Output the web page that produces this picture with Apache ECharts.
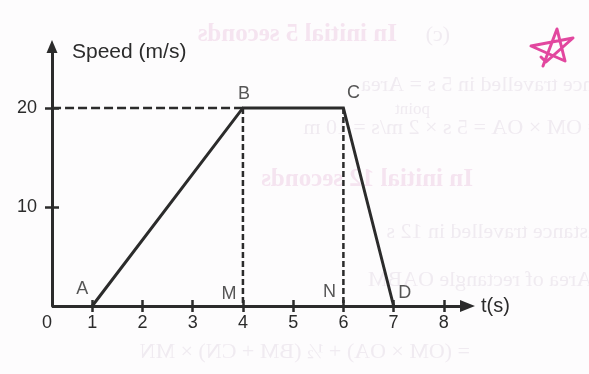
<!DOCTYPE html>
<html>
<head>
<meta charset="utf-8">
<script src="https://cdn.jsdelivr.net/npm/echarts@6/dist/echarts.min.js"></script>
<style>
  html, body { margin: 0; padding: 0; background: #fdfcfd; }
  #chart { width: 589px; height: 374px; }
</style>
</head>
<body>
<div id="chart"></div>
<script>
// Speed–time graph: motion from A to B to C to D
const times = [1, 4, 6, 7];
const speeds = [0, 20, 20, 0];
const pointNames = ['A', 'B', 'C', 'D'];
const footTimes = [4, 6];
const footNames = ['M', 'N'];
const xTickValues = [1, 2, 3, 4, 5, 6, 7, 8];
const xLabelValues = [0, 1, 2, 3, 4, 5, 6, 7, 8];
const yTickValues = [10, 20];

// where the speed axis crosses the time axis, and where the time arrow ends
const yAxisAt = 0.2;
const xArrowEnd = 8.47;

const INK = '#2b2b2b';
const FONT = '"Liberation Sans", Arial, sans-serif';

// label nudges around each lettered point
const labelOffset = { A: [-10, -17], B: [1, -14], C: [10, -15], D: [11, -13], M: [-14, -12], N: [-14, -14] };

// faint show-through from the reverse of the printed page (mirrored)
const ghostLines = [
  { text: '(c)', right: 450, y: 35, size: 22, bold: false },
  { text: 'In initial 5 seconds', right: 397, y: 35, size: 25, bold: true },
  { text: 'Distance travelled in 5 s = Area', right: 640, y: 85, size: 22, bold: false },
  { text: 'point', right: 430, y: 110, size: 17, bold: false },
  { text: '= OM × OA = 5 s × 2 m/s = 10 m', right: 600, y: 128, size: 22, bold: false },
  { text: 'In initial 12 seconds', right: 473, y: 180, size: 25, bold: true },
  { text: 'Distance travelled in 12 s', right: 610, y: 232, size: 22, bold: false },
  { text: '= Area of rectangle OABM', right: 610, y: 280, size: 22, bold: false },
  { text: '= (OM × OA) + ½ (BM + CN) × MN', right: 470, y: 352, size: 22, bold: false }
];

const chart = echarts.init(document.getElementById('chart'), null, { renderer: 'canvas' });

const pathData = times.map((t, i) => [t, speeds[i]]);
const peak = speeds[1];

const letterData = pointNames.map((n, i) => ({ name: n, value: [times[i], speeds[i]] }))
  .concat(footNames.map((n, i) => ({ name: n, value: [footTimes[i], 0] })));

const dashed = (w, dash) => ({ color: INK, width: w, type: dash });

const graphics = ghostLines.map(g => ({
  type: 'text',
  x: g.right,
  y: g.y,
  scaleX: -1,
  z: -10,
  silent: true,
  style: {
    text: g.text,
    font: (g.bold ? 'bold ' : '') + g.size + 'px "Liberation Serif", serif',
    fill: g.bold ? '#f5e4f0' : '#f0ebf1',
    textAlign: 'left',
    textVerticalAlign: 'middle'
  }
}));

// hand-drawn pink star in the margin
graphics.push({
  type: 'polyline',
  silent: true,
  z: 10,
  shape: { points: [[543, 66], [557, 29], [565, 61], [531, 46], [573, 38], [546, 62], [541, 57]] },
  style: { stroke: '#e2479f', lineWidth: 3, fill: null, lineJoin: 'round', lineCap: 'round' }
});

const xAxisBase = {
  type: 'value', min: 0, max: 8.6, position: 'bottom',
  axisLine: { show: false, onZero: false },
  splitLine: { show: false }
};
const yAxisBase = {
  type: 'value', min: 0, max: 26.2, position: 'left', offset: -10,
  splitLine: { show: false }
};

chart.setOption({
  animation: false,
  backgroundColor: '#fdfcfd',
  grid: { left: 42, right: 115, top: 46.5, bottom: 68 },
  graphic: graphics,
  xAxis: [
    Object.assign({}, xAxisBase, {
      axisTick: { show: true, customValues: xTickValues, length: 6, lineStyle: { color: INK, width: 2.5 } },
      axisLabel: {
        show: true, customValues: xLabelValues, margin: 8,
        color: INK, fontFamily: FONT, fontSize: 18,
        formatter: v => (v === 0 ? '{z|0}' : String(v)),
        rich: { z: { color: INK, fontFamily: FONT, fontSize: 18, padding: [0, 0, 0, 10] } }
      },
      name: 't(s)', nameLocation: 'end', nameGap: 7,
      nameTextStyle: { color: INK, fontFamily: FONT, fontSize: 20, verticalAlign: 'middle', padding: [0, 0, 8, 0] }
    }),
    Object.assign({}, xAxisBase, {
      axisTick: { show: true, inside: true, customValues: xTickValues, length: 6, lineStyle: { color: INK, width: 2.5 } },
      axisLabel: { show: false }
    })
  ],
  yAxis: [
    Object.assign({}, yAxisBase, {
      axisLine: {
        show: true, onZero: false,
        symbol: ['none', 'triangle'], symbolSize: [11, 13],
        lineStyle: { color: INK, width: 3 }
      },
      axisTick: { show: true, customValues: yTickValues, length: 7, lineStyle: { color: INK, width: 2.5 } },
      axisLabel: { show: true, customValues: yTickValues, margin: 15, color: INK, fontFamily: FONT, fontSize: 18 },
      name: 'Speed (m/s)', nameLocation: 'end', nameGap: -5.5,
      nameTextStyle: { color: INK, fontFamily: FONT, fontSize: 21, align: 'left', verticalAlign: 'middle', padding: [0, 0, 0, 20] }
    }),
    Object.assign({}, yAxisBase, {
      axisLine: { show: false, onZero: false },
      axisTick: { show: true, inside: true, customValues: yTickValues, length: 7, lineStyle: { color: INK, width: 2.5 } },
      axisLabel: { show: false }
    })
  ],
  series: [
    {
      // time axis line with its arrow, starting at the speed axis
      type: 'line', data: [], silent: true, clip: false,
      markLine: {
        silent: true, animation: false,
        symbol: ['none', 'triangle'],
        symbolSize: [0, 13],
        label: { show: false },
        lineStyle: { color: INK, width: 3, type: 'solid' },
        emphasis: { disabled: true },
        data: [[
          { coord: [yAxisAt, 0], symbol: 'none' },
          { coord: [xArrowEnd, 0], symbol: 'triangle', symbolSize: [12, 15] }
        ]]
      }
    },
    {
      type: 'line', silent: true, symbol: 'none', clip: false,
      data: [[yAxisAt, peak], [times[1], peak]],
      lineStyle: dashed(2.5, [9, 4])
    },
    {
      type: 'line', silent: true, symbol: 'none', clip: false,
      data: [[times[1], peak], [footTimes[0], 0]],
      lineStyle: dashed(2.5, [6, 3])
    },
    {
      type: 'line', silent: true, symbol: 'none', clip: false,
      data: [[times[2], peak], [footTimes[1], 0]],
      lineStyle: dashed(2.5, [6, 3])
    },
    {
      type: 'line', silent: true, symbol: 'none', clip: false,
      data: pathData,
      lineStyle: { color: INK, width: 3, join: 'miter' },
      z: 5
    },
    {
      type: 'scatter', silent: true, clip: false,
      symbolSize: 1,
      itemStyle: { color: 'rgba(0,0,0,0)' },
      data: letterData.map(d => ({
        name: d.name, value: d.value,
        label: { offset: labelOffset[d.name] }
      })),
      label: {
        show: true, position: 'inside',
        formatter: p => p.name,
        color: INK, fontFamily: FONT, fontSize: 18
      },
      z: 6
    }
  ]
});
</script>
</body>
</html>
